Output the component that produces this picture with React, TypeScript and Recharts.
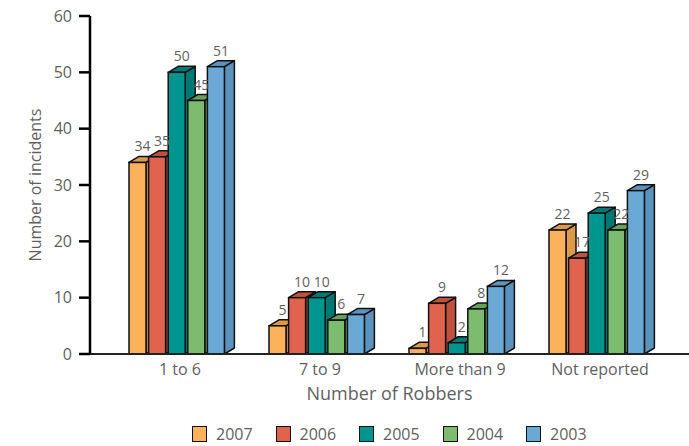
import React from 'react';
import { BarChart, Bar, XAxis, YAxis, Legend, LabelList } from 'recharts';

// Robbery incidents by number of robbers, one series per year
const categories = ['1 to 6', '7 to 9', 'More than 9', 'Not reported'];
const years = ['2007', '2006', '2005', '2004', '2003'];
const incidents2007 = [34, 5, 1, 22];
const incidents2006 = [35, 10, 9, 17];
const incidents2005 = [50, 10, 2, 25];
const incidents2004 = [45, 6, 8, 22];
const incidents2003 = [51, 7, 12, 29];
const yTicks = [0, 10, 20, 30, 40, 50, 60];

const seriesValues: Record<string, number[]> = {
  '2007': incidents2007,
  '2006': incidents2006,
  '2005': incidents2005,
  '2004': incidents2004,
  '2003': incidents2003,
};

const palette: Record<string, { face: string; shade: string }> = {
  '2007': { face: '#FBB25A', shade: '#DC9A47' },
  '2006': { face: '#E0634E', shade: '#BE523F' },
  '2005': { face: '#00958F', shade: '#007873' },
  '2004': { face: '#7DBC6E', shade: '#67A05A' },
  '2003': { face: '#6AA8D5', shade: '#5A93BE' },
};

const data = categories.map((name, i) => {
  const row: Record<string, string | number> = { name };
  years.forEach((y) => {
    row[y] = seriesValues[y][i];
  });
  return row;
});

const DEPTH_X = 10;
const DEPTH_Y = 6;
const FONT = '"Open Sans", sans-serif';
const TEXT = '#5f5f5f';

// Extruded bar: front face, top face and right side face
const makeBox = (year: string) => (props: any) => {
  const { x, y, width, height } = props;
  if (width == null || height == null || isNaN(x) || isNaN(y)) return <g />;
  const { face, shade } = palette[year];
  const w = width;
  const h = Math.max(height, 0);
  const side = `${x + w},${y} ${x + w + DEPTH_X},${y - DEPTH_Y} ${x + w + DEPTH_X},${y + h - DEPTH_Y} ${x + w},${y + h}`;
  const top = `${x},${y} ${x + DEPTH_X},${y - DEPTH_Y} ${x + w + DEPTH_X},${y - DEPTH_Y} ${x + w},${y}`;
  return (
    <g>
      <polygon points={side} fill={shade} stroke="#111" strokeWidth={1.5} strokeLinejoin="round" />
      <polygon points={top} fill={shade} stroke="#111" strokeWidth={1.5} strokeLinejoin="round" />
      <rect x={x} y={y} width={w} height={h} fill={face} stroke="#111" strokeWidth={1.5} />
    </g>
  );
};

const valueLabel = (props: any) => {
  const { x, y, width, value } = props;
  return (
    <text
      x={x + width / 2 + DEPTH_X / 2}
      y={y - 11}
      textAnchor="middle"
      fontSize={14}
      fontFamily={FONT}
      fill={TEXT}
    >
      {value}
    </text>
  );
};

const LegendContent = () => (
  <div style={{ display: 'flex', paddingLeft: 192, paddingTop: 3, height: 30, alignItems: 'center' }}>
    {years.map((y) => (
      <div key={y} style={{ display: 'flex', alignItems: 'center', width: 83.5 }}>
        <span
          style={{
            display: 'inline-block',
            width: 13,
            height: 14,
            background: palette[y].face,
            border: '1.5px solid #111',
            marginRight: 9,
          }}
        />
        <span style={{ fontFamily: FONT, fontSize: 16, color: TEXT }}>{y}</span>
      </div>
    ))}
  </div>
);

export default function App() {
  return (
    <div style={{ position: 'absolute', left: 0, top: 0, width: 689, height: 446, background: '#fff' }}>
      <BarChart
        width={689}
        height={446}
        data={data}
        margin={{ top: 16, right: 0, bottom: 0, left: 0 }}
        barSize={17}
        barGap={2.6}
      >
        <XAxis
          dataKey="name"
          height={62}
          padding={{ left: 17, right: 22 }}
          axisLine={{ stroke: '#222', strokeWidth: 2 }}
          tickLine={false}
          tickSize={0}
          tickMargin={10}
          tick={{ fontSize: 16, fontFamily: FONT, fill: TEXT, dx: 3 }}
          label={{
            value: 'Number of Robbers',
            position: 'insideBottom',
            offset: 16,
            fontSize: 18,
            fontFamily: FONT,
            fill: TEXT,
          }}
        />
        <YAxis
          width={90}
          domain={[0, 60]}
          ticks={yTicks}
          interval={0}
          axisLine={{ stroke: '#000', strokeWidth: 2.5 }}
          tickLine={{ stroke: '#000', strokeWidth: 2.5 }}
          tickSize={11}
          tickMargin={7}
          tick={{ fontSize: 16, fontFamily: FONT, fill: TEXT }}
          label={{
            value: 'Number of incidents',
            angle: -90,
            position: 'insideLeft',
            offset: 35,
            style: { textAnchor: 'middle' },
            fontSize: 16,
            fontFamily: FONT,
            fill: TEXT,
          }}
        />
        <Legend verticalAlign="bottom" content={<LegendContent />} wrapperStyle={{ height: 30 }} />
        {years.map((y) => (
          <Bar key={y} dataKey={y} fill={palette[y].face} shape={makeBox(y)} isAnimationActive={false}>
            <LabelList dataKey={y} content={valueLabel} />
          </Bar>
        ))}
      </BarChart>
    </div>
  );
}
